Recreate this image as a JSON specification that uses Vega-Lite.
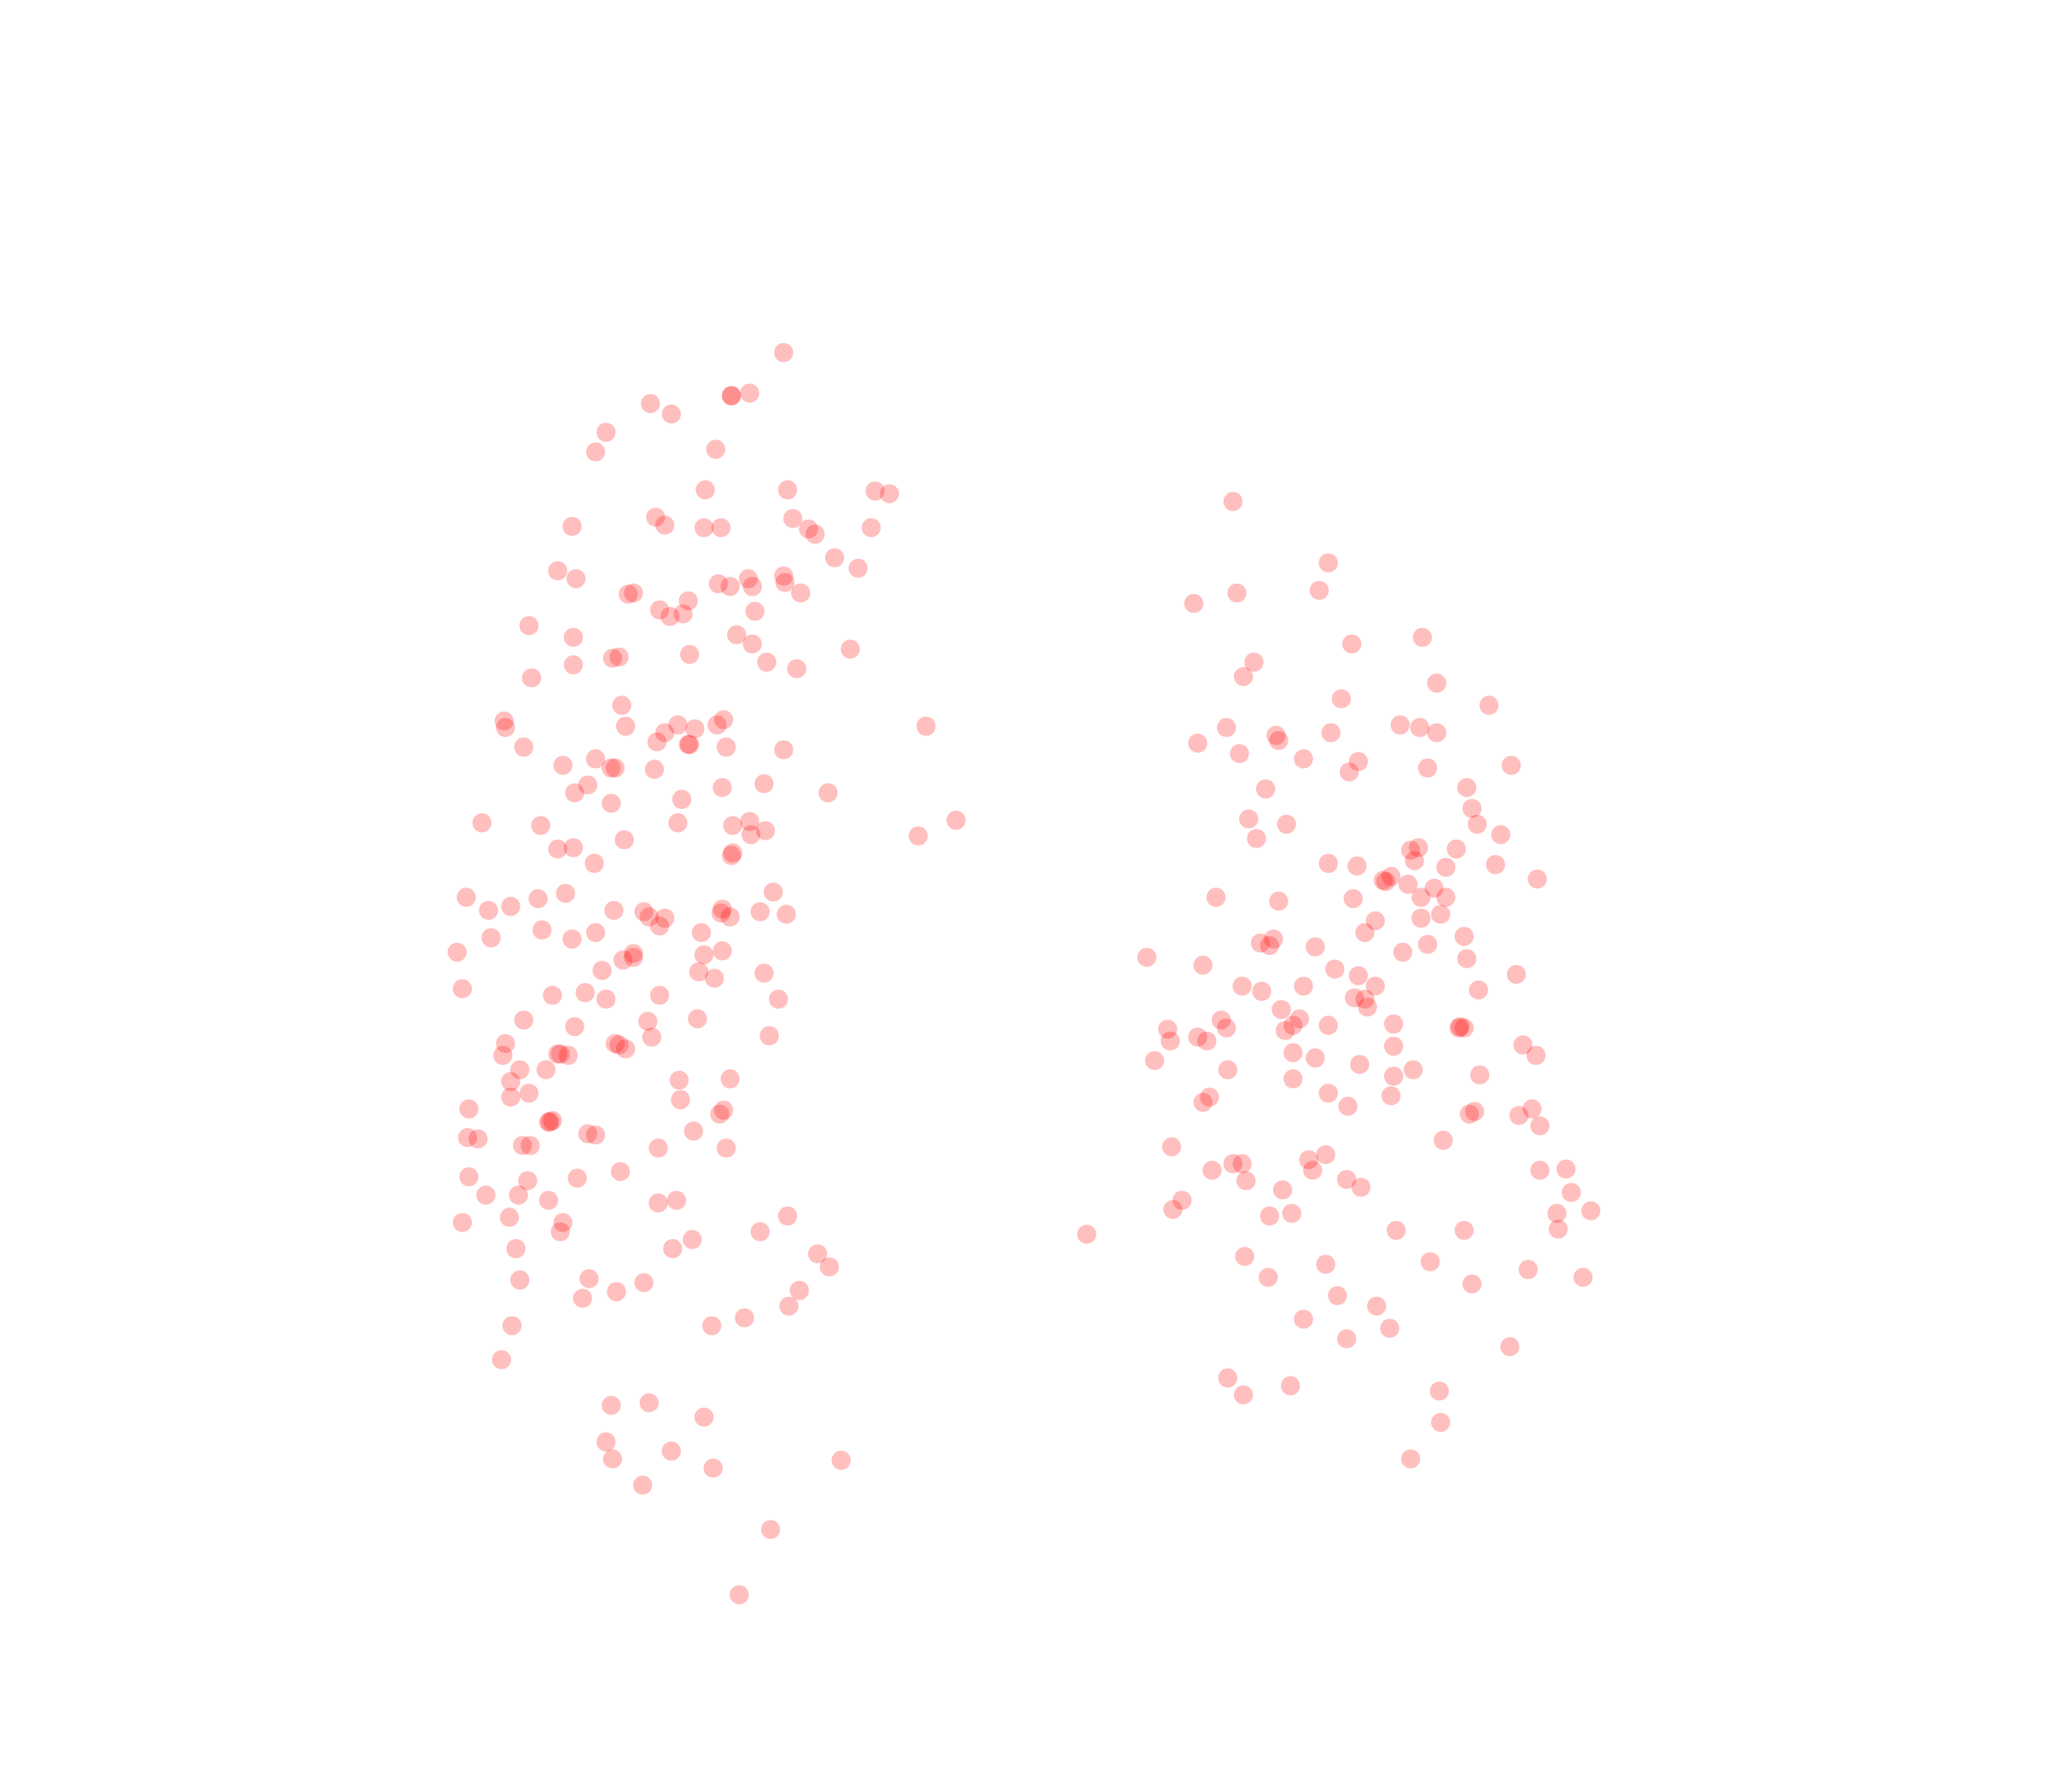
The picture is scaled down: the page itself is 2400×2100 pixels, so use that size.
{"$schema":"https://vega.github.io/schema/vega-lite/v6.json","width":2400,"height":2100,"padding":0,"autosize":{"type":"fit","contains":"padding"},"background":"white","view":{"stroke":null},"data":{"values":[
{"x":600,"y":270},{"x":574,"y":301},{"x":560,"y":303},{"x":560,"y":303},{"x":498,"y":309},{"x":514,"y":317},{"x":464,"y":331},{"x":456,"y":346},{"x":548,"y":344},{"x":540,"y":375},{"x":603,"y":375},{"x":670,"y":376},{"x":681,"y":378},{"x":502,"y":396},{"x":509,"y":402},{"x":438,"y":403},{"x":539,"y":404},{"x":552,"y":404},{"x":607,"y":397},{"x":619,"y":405},{"x":624,"y":409},{"x":667,"y":404},{"x":639,"y":427},{"x":657,"y":435},{"x":427,"y":437},{"x":441,"y":443},{"x":550,"y":447},{"x":559,"y":449},{"x":573,"y":443},{"x":576,"y":449},{"x":600,"y":441},{"x":601,"y":446},{"x":613,"y":454},{"x":481,"y":455},{"x":485,"y":454},{"x":527,"y":460},{"x":505,"y":467},{"x":513,"y":472},{"x":523,"y":470},{"x":578,"y":468},{"x":405,"y":479},{"x":439,"y":488},{"x":564,"y":486},{"x":576,"y":493},{"x":651,"y":497},{"x":469,"y":504},{"x":474,"y":503},{"x":528,"y":501},{"x":587,"y":507},{"x":610,"y":512},{"x":439,"y":509},{"x":407,"y":519},{"x":476,"y":540},{"x":386,"y":552},{"x":387,"y":557},{"x":479,"y":556},{"x":519,"y":555},{"x":509,"y":561},{"x":532,"y":558},{"x":549,"y":555},{"x":554,"y":551},{"x":503,"y":568},{"x":527,"y":570},{"x":528,"y":570},{"x":556,"y":572},{"x":401,"y":572},{"x":600,"y":574},{"x":709,"y":556},{"x":431,"y":586},{"x":456,"y":581},{"x":468,"y":588},{"x":471,"y":588},{"x":501,"y":589},{"x":585,"y":600},{"x":450,"y":601},{"x":440,"y":607},{"x":553,"y":603},{"x":634,"y":607},{"x":522,"y":612},{"x":468,"y":615},{"x":369,"y":630},{"x":414,"y":632},{"x":519,"y":630},{"x":561,"y":632},{"x":574,"y":629},{"x":586,"y":636},{"x":575,"y":639},{"x":732,"y":628},{"x":703,"y":640},{"x":478,"y":643},{"x":427,"y":650},{"x":439,"y":649},{"x":560,"y":655},{"x":561,"y":653},{"x":455,"y":661},{"x":592,"y":683},{"x":433,"y":684},{"x":357,"y":687},{"x":374,"y":697},{"x":391,"y":694},{"x":412,"y":688},{"x":470,"y":697},{"x":493,"y":698},{"x":497,"y":702},{"x":509,"y":703},{"x":505,"y":709},{"x":553,"y":696},{"x":552,"y":699},{"x":559,"y":702},{"x":582,"y":698},{"x":602,"y":700},{"x":415,"y":712},{"x":376,"y":718},{"x":438,"y":719},{"x":456,"y":714},{"x":537,"y":714},{"x":350,"y":729},{"x":539,"y":731},{"x":553,"y":728},{"x":485,"y":730},{"x":485,"y":733},{"x":477,"y":735},{"x":461,"y":743},{"x":535,"y":744},{"x":547,"y":749},{"x":585,"y":745},{"x":354,"y":757},{"x":423,"y":762},{"x":448,"y":760},{"x":464,"y":765},{"x":505,"y":762},{"x":596,"y":765},{"x":401,"y":781},{"x":440,"y":786},{"x":496,"y":782},{"x":534,"y":780},{"x":387,"y":799},{"x":385,"y":808},{"x":471,"y":799},{"x":474,"y":800},{"x":479,"y":803},{"x":499,"y":794},{"x":589,"y":793},{"x":427,"y":807},{"x":429,"y":807},{"x":435,"y":808},{"x":398,"y":819},{"x":418,"y":819},{"x":391,"y":828},{"x":520,"y":827},{"x":559,"y":826},{"x":391,"y":840},{"x":405,"y":837},{"x":521,"y":842},{"x":359,"y":849},{"x":421,"y":859},{"x":423,"y":858},{"x":420,"y":859},{"x":551,"y":853},{"x":554,"y":850},{"x":358,"y":871},{"x":366,"y":872},{"x":400,"y":877},{"x":406,"y":877},{"x":450,"y":868},{"x":456,"y":869},{"x":531,"y":866},{"x":504,"y":879},{"x":556,"y":879},{"x":475,"y":897},{"x":359,"y":901},{"x":404,"y":904},{"x":442,"y":902},{"x":372,"y":915},{"x":397,"y":915},{"x":420,"y":919},{"x":504,"y":921},{"x":518,"y":919},{"x":390,"y":932},{"x":354,"y":936},{"x":431,"y":936},{"x":429,"y":943},{"x":603,"y":931},{"x":582,"y":943},{"x":530,"y":949},{"x":395,"y":956},{"x":515,"y":956},{"x":626,"y":960},{"x":635,"y":970},{"x":398,"y":980},{"x":451,"y":979},{"x":493,"y":982},{"x":472,"y":989},{"x":446,"y":994},{"x":612,"y":988},{"x":604,"y":1000},{"x":570,"y":1009},{"x":545,"y":1015},{"x":392,"y":1015},{"x":384,"y":1041},{"x":468,"y":1076},{"x":497,"y":1074},{"x":539,"y":1085},{"x":464,"y":1104},{"x":469,"y":1117},{"x":514,"y":1111},{"x":546,"y":1124},{"x":644,"y":1118},{"x":492,"y":1137},{"x":590,"y":1171},{"x":566,"y":1221},
{"x":944,"y":384},{"x":1017,"y":431},{"x":1010,"y":452},{"x":947,"y":454},{"x":914,"y":462},{"x":1035,"y":493},{"x":1089,"y":488},{"x":960,"y":507},{"x":952,"y":518},{"x":1100,"y":523},{"x":1027,"y":535},{"x":1140,"y":540},{"x":939,"y":557},{"x":977,"y":563},{"x":979,"y":567},{"x":1019,"y":561},{"x":1072,"y":555},{"x":1087,"y":557},{"x":1100,"y":561},{"x":917,"y":569},{"x":949,"y":577},{"x":998,"y":581},{"x":1040,"y":583},{"x":1033,"y":591},{"x":1093,"y":588},{"x":1157,"y":586},{"x":969,"y":604},{"x":1123,"y":603},{"x":1127,"y":619},{"x":956,"y":627},{"x":985,"y":631},{"x":1131,"y":631},{"x":962,"y":642},{"x":1149,"y":639},{"x":1080,"y":651},{"x":1086,"y":649},{"x":1115,"y":650},{"x":1083,"y":659},{"x":1017,"y":661},{"x":1039,"y":663},{"x":1107,"y":664},{"x":1145,"y":662},{"x":1065,"y":671},{"x":1059,"y":674},{"x":1061,"y":675},{"x":1078,"y":677},{"x":1098,"y":680},{"x":1177,"y":673},{"x":931,"y":687},{"x":979,"y":690},{"x":1036,"y":688},{"x":1088,"y":687},{"x":1107,"y":687},{"x":1103,"y":700},{"x":1088,"y":703},{"x":1053,"y":705},{"x":1045,"y":714},{"x":965,"y":722},{"x":975,"y":719},{"x":972,"y":724},{"x":1007,"y":725},{"x":1121,"y":717},{"x":1093,"y":723},{"x":1074,"y":729},{"x":878,"y":733},{"x":1123,"y":734},{"x":921,"y":739},{"x":1022,"y":742},{"x":1040,"y":747},{"x":1161,"y":746},{"x":951,"y":755},{"x":966,"y":759},{"x":998,"y":755},{"x":1053,"y":755},{"x":1132,"y":758},{"x":1037,"y":764},{"x":1045,"y":765},{"x":1047,"y":771},{"x":981,"y":773},{"x":935,"y":781},{"x":939,"y":787},{"x":995,"y":780},{"x":990,"y":785},{"x":984,"y":789},{"x":1017,"y":785},{"x":1067,"y":784},{"x":1118,"y":786},{"x":1121,"y":787},{"x":1117,"y":787},{"x":894,"y":788},{"x":896,"y":797},{"x":917,"y":794},{"x":924,"y":797},{"x":1067,"y":801},{"x":1166,"y":800},{"x":1176,"y":808},{"x":884,"y":812},{"x":990,"y":806},{"x":1007,"y":810},{"x":1041,"y":815},{"x":940,"y":819},{"x":1082,"y":819},{"x":1067,"y":824},{"x":1133,"y":823},{"x":990,"y":826},{"x":1017,"y":837},{"x":1065,"y":839},{"x":926,"y":840},{"x":921,"y":844},{"x":1032,"y":847},{"x":1125,"y":853},{"x":1129,"y":851},{"x":1173,"y":849},{"x":1163,"y":854},{"x":1179,"y":862},{"x":1105,"y":873},{"x":897,"y":878},{"x":1015,"y":884},{"x":1002,"y":888},{"x":944,"y":891},{"x":951,"y":891},{"x":928,"y":896},{"x":1005,"y":896},{"x":1179,"y":896},{"x":1199,"y":895},{"x":954,"y":904},{"x":1031,"y":903},{"x":1042,"y":909},{"x":982,"y":911},{"x":1203,"y":913},{"x":905,"y":919},{"x":898,"y":926},{"x":972,"y":931},{"x":989,"y":929},{"x":1192,"y":929},{"x":1218,"y":927},{"x":1069,"y":942},{"x":1121,"y":942},{"x":1193,"y":941},{"x":832,"y":945},{"x":953,"y":962},{"x":1015,"y":968},{"x":1095,"y":966},{"x":1170,"y":972},{"x":971,"y":978},{"x":1212,"y":978},{"x":1127,"y":983},{"x":1024,"y":992},{"x":1054,"y":1000},{"x":998,"y":1010},{"x":1064,"y":1017},{"x":1031,"y":1025},{"x":1156,"y":1031},{"x":940,"y":1055},{"x":952,"y":1068},{"x":988,"y":1061},{"x":1102,"y":1065},{"x":1103,"y":1089},{"x":1080,"y":1117}
]},"mark":{"type":"circle","color":"#ff0000","opacity":0.25,"size":500,"clip":false},"encoding":{"x":{"field":"x","type":"quantitative","scale":{"domain":[0,1568]},"axis":null},"y":{"field":"y","type":"quantitative","scale":{"domain":[1372,0]},"axis":null}}}
